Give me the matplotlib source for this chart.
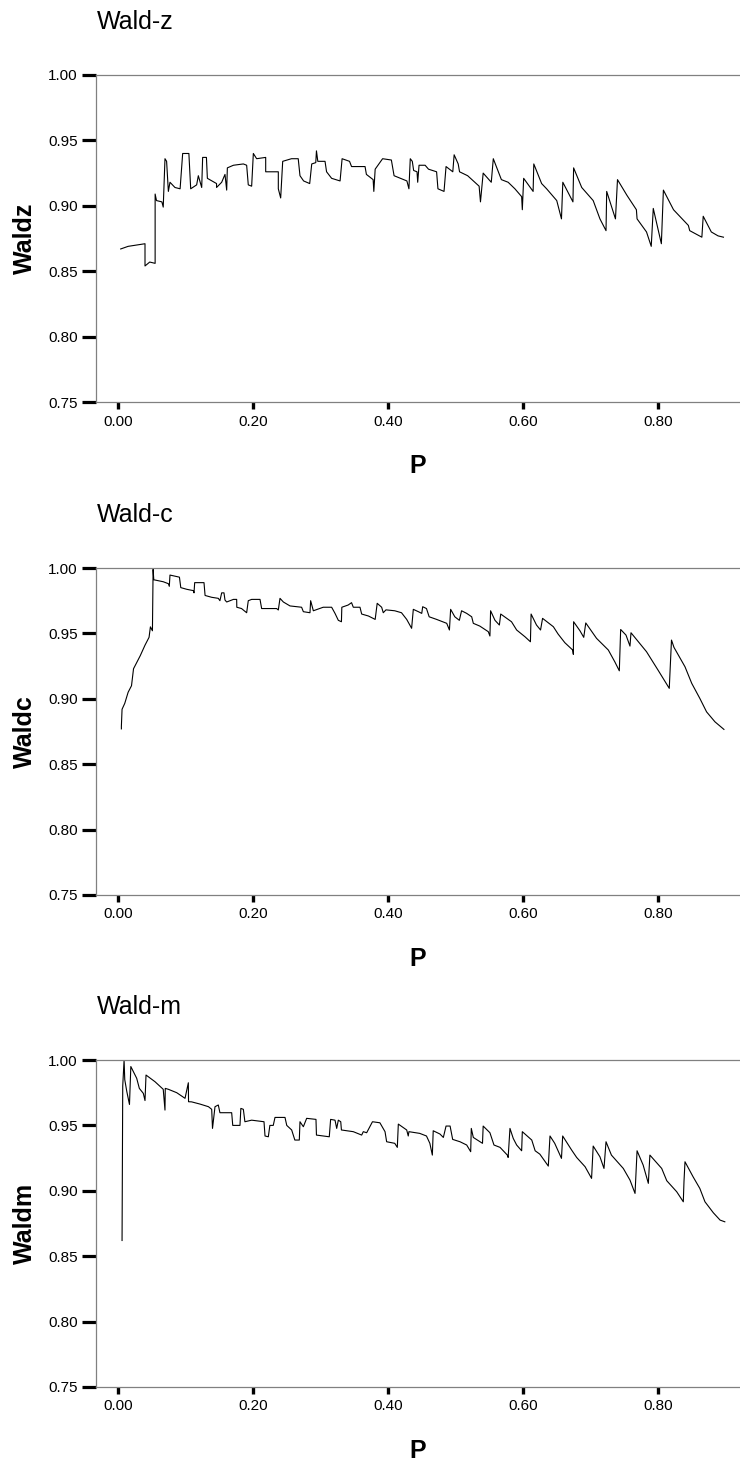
import numpy as np
import matplotlib.pyplot as plt

plt.rcParams['font.family'] = ['Liberation Sans', 'DejaVu Sans']

# coverage curves (P, value)
p_z = [0.004, 0.015, 0.040, 0.040, 0.047, 0.055, 0.055, 0.057, 0.065, 0.067, 0.0696, 0.072, 0.0746,
       0.077, 0.0844, 0.092, 0.0958, 0.105, 0.1077, 0.1165, 0.119, 0.124, 0.1254, 0.131, 0.1324,
       0.146, 0.146, 0.1536, 0.1585, 0.161, 0.162, 0.171, 0.1857, 0.1906, 0.193, 0.198, 0.2005,
       0.2054, 0.2188, 0.2188, 0.2375, 0.2375, 0.241, 0.244, 0.257, 0.267, 0.2696, 0.275, 0.284,
       0.287, 0.293, 0.294, 0.296, 0.3067, 0.309, 0.3165, 0.329, 0.332, 0.343, 0.346, 0.366, 0.368,
       0.378, 0.379, 0.381, 0.392, 0.405, 0.409, 0.428, 0.431, 0.433, 0.436, 0.438, 0.443, 0.444,
       0.446, 0.455, 0.460, 0.472, 0.474, 0.483, 0.486, 0.496, 0.498, 0.504, 0.506, 0.518, 0.535,
       0.537, 0.541, 0.553, 0.556, 0.568, 0.578, 0.588, 0.598, 0.599, 0.601, 0.615, 0.616, 0.6276,
       0.635, 0.650, 0.657, 0.659, 0.674, 0.675, 0.687, 0.704, 0.714, 0.723, 0.724, 0.737, 0.740,
       0.754, 0.768, 0.769, 0.783, 0.790, 0.793, 0.805, 0.808, 0.823, 0.845, 0.847, 0.865, 0.867,
       0.879, 0.889, 0.897]
waldz = [0.867, 0.869, 0.871, 0.854, 0.857, 0.856, 0.909, 0.904, 0.903, 0.899, 0.936, 0.934, 0.911,
         0.918, 0.914, 0.913, 0.940, 0.940, 0.913, 0.916, 0.923, 0.914, 0.937, 0.937, 0.921,
         0.917, 0.914, 0.918, 0.924, 0.912, 0.929, 0.931, 0.932, 0.931, 0.916, 0.915, 0.940,
         0.936, 0.937, 0.926, 0.926, 0.913, 0.906, 0.934, 0.936, 0.936, 0.923, 0.919, 0.917,
         0.932, 0.933, 0.942, 0.934, 0.934, 0.926, 0.921, 0.919, 0.936, 0.934, 0.930, 0.930, 0.924,
         0.920, 0.911, 0.928, 0.936, 0.935, 0.923, 0.919, 0.913, 0.936, 0.934, 0.927, 0.926, 0.918,
         0.931, 0.931, 0.928, 0.926, 0.913, 0.911, 0.930, 0.926, 0.939, 0.932, 0.926, 0.923, 0.915,
         0.903, 0.925, 0.918, 0.936, 0.920, 0.918, 0.913, 0.907, 0.897, 0.921, 0.911, 0.932, 0.917,
         0.913, 0.904, 0.890, 0.918, 0.903, 0.929, 0.914, 0.904, 0.890, 0.881, 0.911, 0.890, 0.920,
         0.908, 0.897, 0.890, 0.880, 0.869, 0.898, 0.871, 0.912, 0.897, 0.885, 0.881, 0.876, 0.892,
         0.880, 0.877, 0.876]

p_c = [0.005, 0.005, 0.006, 0.010, 0.015, 0.020, 0.023, 0.028, 0.033, 0.040, 0.046, 0.048, 0.051,
       0.052, 0.053, 0.067, 0.0746, 0.076, 0.077, 0.091, 0.093, 0.102, 0.1116, 0.1126, 0.1136,
       0.1274, 0.129, 0.1388, 0.1486, 0.151, 0.1536, 0.157, 0.1585, 0.161, 0.171, 0.1758, 0.176,
       0.183, 0.1906, 0.193, 0.198, 0.2104, 0.2128, 0.235, 0.2375, 0.240, 0.245, 0.2548, 0.272,
       0.2746, 0.2844, 0.2854, 0.2894, 0.304, 0.3165, 0.3215, 0.3264, 0.331, 0.3316, 0.341, 0.346,
       0.3486, 0.3585, 0.361, 0.371, 0.381, 0.384, 0.3906, 0.393, 0.397, 0.410, 0.420, 0.4277,
       0.435, 0.4375, 0.445, 0.450, 0.4514, 0.457, 0.461, 0.472, 0.487, 0.491, 0.4928, 0.499,
       0.5057, 0.509, 0.5166, 0.524, 0.5264, 0.536, 0.5486, 0.551, 0.552, 0.5585, 0.565, 0.567,
       0.583, 0.5906, 0.603, 0.611, 0.612, 0.620, 0.626, 0.629, 0.645, 0.652, 0.662, 0.6736,
       0.6746, 0.675, 0.6844, 0.690, 0.693, 0.709, 0.7264, 0.736, 0.7427, 0.7447, 0.7526, 0.7585,
       0.760, 0.783, 0.800, 0.8167, 0.820, 0.8237, 0.840, 0.850, 0.862, 0.872, 0.8844, 0.8977]
waldc = [0.877, 0.879, 0.892, 0.8965, 0.905, 0.910, 0.923, 0.928, 0.933, 0.941, 0.947, 0.955, 0.952,
         0.999, 0.991, 0.9895, 0.988, 0.986, 0.9946, 0.993, 0.985, 0.9837, 0.9827, 0.981, 0.9888,
         0.9888, 0.979, 0.9776, 0.9768, 0.975, 0.981, 0.981, 0.9755, 0.974, 0.976, 0.976, 0.970,
         0.969, 0.9658, 0.975, 0.976, 0.976, 0.969, 0.969, 0.9679, 0.9768, 0.974, 0.971, 0.970,
         0.9666, 0.9658, 0.975, 0.9673, 0.970, 0.970, 0.9653, 0.960, 0.9589, 0.970, 0.9717, 0.9735,
         0.970, 0.970, 0.9648, 0.9633, 0.9607, 0.973, 0.970, 0.9658, 0.968, 0.9673, 0.9658, 0.9607,
         0.9539, 0.9684, 0.9666, 0.9653, 0.9704, 0.969, 0.9627, 0.9607, 0.9577, 0.9526, 0.9684, 0.9627,
         0.960, 0.9673, 0.9653, 0.9627, 0.9577, 0.9556, 0.9513, 0.948, 0.9673, 0.960, 0.9564, 0.9648,
         0.9589, 0.9526, 0.9474, 0.9436, 0.9648, 0.9564, 0.9526, 0.9615, 0.9551, 0.9495, 0.9429, 0.9373,
         0.934, 0.9589, 0.952, 0.947, 0.958, 0.9462, 0.9373, 0.9283, 0.9214, 0.953, 0.9487, 0.9403,
         0.9505, 0.936, 0.922, 0.908, 0.9449, 0.9393, 0.9245, 0.9118, 0.9003, 0.890, 0.8824, 0.8766]

p_m = [0.006, 0.007, 0.009, 0.010, 0.013, 0.017, 0.019, 0.0277, 0.0316, 0.0375, 0.040, 0.0415, 0.0548,
       0.067, 0.0696, 0.070, 0.0746, 0.087, 0.0993, 0.1042, 0.1045, 0.109, 0.1215, 0.134, 0.1388,
       0.140, 0.1437, 0.1486, 0.151, 0.1684, 0.170, 0.1807, 0.182, 0.1857, 0.188, 0.198, 0.2163,
       0.2178, 0.2227, 0.225, 0.230, 0.2326, 0.2474, 0.250, 0.2573, 0.262, 0.2686, 0.2696, 0.2746,
       0.2795, 0.2933, 0.294, 0.313, 0.315, 0.3215, 0.324, 0.3264, 0.330, 0.331, 0.3486, 0.361,
       0.3634, 0.3684, 0.377, 0.388, 0.3956, 0.398, 0.410, 0.4138, 0.4153, 0.4277, 0.430, 0.431,
       0.447, 0.457, 0.462, 0.4657, 0.467, 0.477, 0.482, 0.486, 0.492, 0.4958, 0.5067, 0.5166,
       0.5225, 0.5234, 0.5264, 0.540, 0.541, 0.551, 0.557, 0.566, 0.5768, 0.578, 0.5807, 0.5856,
       0.5906, 0.598, 0.599, 0.613, 0.618, 0.625, 0.6375, 0.640, 0.647, 0.657, 0.6588, 0.672,
       0.6795, 0.692, 0.7016, 0.704, 0.714, 0.720, 0.723, 0.731, 0.7486, 0.7585, 0.766, 0.769,
       0.778, 0.7857, 0.788, 0.8055, 0.813, 0.8277, 0.8375, 0.8385, 0.840, 0.852, 0.862, 0.8696,
       0.882, 0.892, 0.899]
waldm = [0.862, 0.980, 1.000, 0.985, 0.976, 0.966, 0.995, 0.986, 0.9783, 0.9745, 0.969, 0.9885, 0.9834,
         0.9776, 0.9617, 0.9783, 0.9776, 0.975, 0.9707, 0.9826, 0.9681, 0.968, 0.9663, 0.9643, 0.9623,
         0.9477, 0.9643, 0.9656, 0.9597, 0.9597, 0.950, 0.950, 0.963, 0.9623, 0.9528, 0.954, 0.9528,
         0.9419, 0.9413, 0.950, 0.950, 0.9561, 0.9561, 0.950, 0.9465, 0.9388, 0.9388, 0.9528, 0.949,
         0.9554, 0.9546, 0.9426, 0.9413, 0.9546, 0.954, 0.9477, 0.954, 0.9528, 0.9465, 0.9452, 0.9426,
         0.9452, 0.9444, 0.9528, 0.952, 0.9452, 0.9375, 0.9363, 0.9332, 0.951, 0.9465, 0.9419, 0.9452,
         0.9439, 0.9419, 0.9363, 0.9273, 0.9459, 0.9434, 0.9408, 0.9495, 0.9495, 0.9393, 0.9375, 0.935,
         0.9299, 0.9477, 0.9408, 0.9363, 0.9495, 0.9444, 0.935, 0.9332, 0.9273, 0.9255, 0.9477, 0.940,
         0.935, 0.9306, 0.9452, 0.9388, 0.9306, 0.928, 0.9189, 0.9419, 0.9363, 0.9248, 0.9419, 0.9312,
         0.9255, 0.9184, 0.9095, 0.9342, 0.926, 0.9171, 0.9375, 0.9273, 0.9171, 0.9082, 0.898, 0.9306,
         0.9197, 0.9057, 0.9273, 0.9171, 0.9077, 0.8993, 0.8916, 0.9069, 0.9222, 0.9107, 0.9018, 0.8916,
         0.8832, 0.8776, 0.8763]

titles = ['Wald-z', 'Wald-c', 'Wald-m']
ylabels = ['Waldz', 'Waldc', 'Waldm']
xs = [p_z, p_c, p_m]
ys = [waldz, waldc, waldm]
yticks = [0.75, 0.80, 0.85, 0.90, 0.95, 1.00]
xticks = [0.0, 0.2, 0.4, 0.6, 0.8]

W, H = 740, 1464
fig = plt.figure(figsize=(W / 100, H / 100), dpi=100)

tops = [75, 568, 1060]   # pixel rows of the 1.00 line
ax_h = 327
for i in range(3):
    top = tops[i]
    ax = fig.add_axes([96 / W, 1 - (top + ax_h) / H, 1 - 96 / W, ax_h / H])
    ax.plot(xs[i], ys[i], color='black', lw=0.8)
    ax.set_xlim(-0.0326, 0.9215)
    ax.set_ylim(0.75, 1.0)
    ax.set_yticks(yticks)
    ax.set_yticklabels(['%.2f' % v for v in yticks])
    ax.set_xticks(xticks)
    ax.set_xticklabels(['%.2f' % v for v in xticks])
    ax.tick_params(axis='y', length=10, width=2.3, pad=3, labelsize=11, color='black')
    ax.tick_params(axis='x', length=5, width=2.4, pad=4, labelsize=11, color='black')
    for s in ['left', 'bottom', 'top']:
        ax.spines[s].set_color('#808080')
        ax.spines[s].set_linewidth(0.9)
    ax.spines['right'].set_visible(False)

    fig.text(97 / W, 1 - (top - 53) / H, titles[i], fontsize=18, ha='left', va='center')
    fig.text(25 / W, 1 - (top + ax_h / 2) / H, ylabels[i], fontsize=18, fontweight='bold',
             rotation=90, ha='center', va='center')
    fig.text(418 / W, 1 - (top + ax_h + 64) / H, 'P', fontsize=18, fontweight='bold',
             ha='center', va='center')

fig.savefig('out.png', dpi=100)
